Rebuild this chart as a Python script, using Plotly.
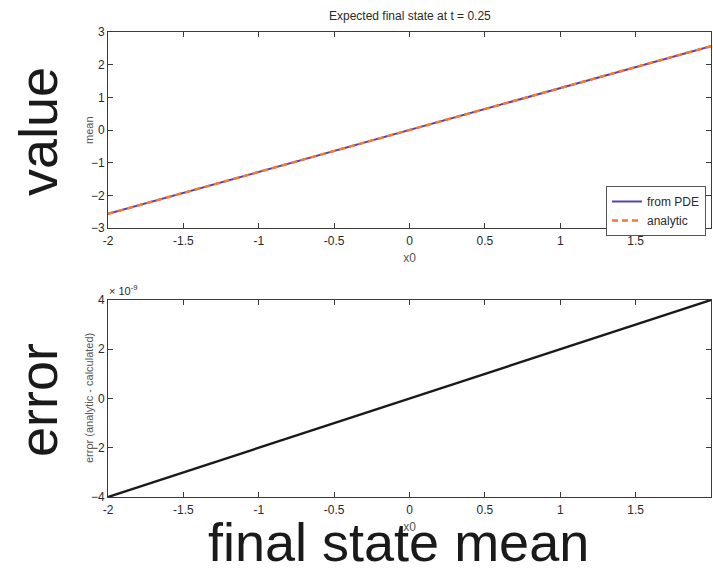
import plotly.graph_objects as go

# Initial positions and the expected final-state mean at t = 0.25
x0 = [-2.0, -1.5, -1.0, -0.5, 0.0, 0.5, 1.0, 1.5, 2.0]
mean_pde = [-2.568, -1.926, -1.284, -0.642, 0.0, 0.642, 1.284, 1.926, 2.568]
mean_analytic = [-2.568, -1.926, -1.284, -0.642, 0.0, 0.642, 1.284, 1.926, 2.568]
# Error (analytic - calculated), in units of 1e-9
error_e9 = [-4.0, -3.0, -2.0, -1.0, 0.0, 1.0, 2.0, 3.0, 4.0]

x_ticks = [-2, -1.5, -1, -0.5, 0, 0.5, 1, 1.5, 2]
mean_ticks = [-3, -2, -1, 0, 1, 2, 3]
err_ticks = [-4, -2, 0, 2, 4]

W, H = 713, 574
FONT = "Liberation Sans, Arial, sans-serif"
AX = "#3a3a3a"
TXT = "#2a2a2a"

fig = go.Figure()

fig.add_trace(go.Scatter(x=x0, y=mean_pde, mode="lines", name="from PDE",
                         line=dict(color="#5a3fb0", width=2),
                         xaxis="x", yaxis="y"))
fig.add_trace(go.Scatter(x=x0, y=mean_analytic, mode="lines", name="analytic",
                         line=dict(color="#f47a32", width=2.5, dash="6px,4px"),
                         xaxis="x", yaxis="y"))
fig.add_trace(go.Scatter(x=x0, y=error_e9, mode="lines", showlegend=False,
                         line=dict(color="#1a1a1a", width=2.4),
                         xaxis="x2", yaxis="y2"))


def px_x(p):
    return p / W


def px_y(p):
    return 1 - p / H


axis_common = dict(
    showline=True, linecolor=AX, linewidth=1, mirror="ticks",
    ticks="inside", ticklen=5, tickcolor=AX, tickwidth=1,
    showgrid=False, zeroline=False, automargin=False,
    tickfont=dict(family=FONT, size=12, color=TXT),
)

x_dom = [px_x(108), px_x(711)]
fig.update_layout(
    width=W, height=H,
    margin=dict(l=0, r=0, t=0, b=0, pad=0),
    paper_bgcolor="white", plot_bgcolor="white",
    font=dict(family=FONT, size=12, color=TXT),
    xaxis=dict(domain=x_dom, range=[-2, 2], tickvals=x_ticks,
               ticktext=[f"{v:g}" for v in x_ticks], anchor="y",
               ticklabelstandoff=2,
               title=dict(text="x0", standoff=6,
                          font=dict(family=FONT, size=12, color="#555555")),
               **axis_common),
    yaxis=dict(domain=[px_y(228), px_y(32)], range=[-3, 3], tickvals=mean_ticks,
               anchor="x", **axis_common),
    xaxis2=dict(domain=x_dom, range=[-2, 2], tickvals=x_ticks,
                ticktext=[f"{v:g}" for v in x_ticks], anchor="y2",
                ticklabelstandoff=2,
                title=dict(text="x0", standoff=6,
                           font=dict(family=FONT, size=12, color="#555555")),
                **axis_common),
    yaxis2=dict(domain=[px_y(497), px_y(300)], range=[-4, 4], tickvals=err_ticks,
                anchor="x2", **axis_common),
    legend=dict(x=px_x(706), y=px_y(186), xanchor="right", yanchor="top",
                bgcolor="white", bordercolor="#555555", borderwidth=1,
                font=dict(family=FONT, size=12, color=TXT),
                tracegroupgap=0, itemwidth=30),
    showlegend=True,
)


def label(text, x, y, size, color, angle=0, xanchor="center"):
    return dict(text=text, x=px_x(x), y=px_y(y), xref="paper", yref="paper",
                xanchor=xanchor, yanchor="middle", textangle=angle,
                showarrow=False, font=dict(family=FONT, size=size, color=color))


fig.update_layout(annotations=[
    label("Expected final state at t = 0.25", 410, 16, 12, TXT),
    label("× 10<sup>-9</sup>", 107, 290, 11, TXT, xanchor="left"),
    label("mean", 89, 130, 11, "#555555", angle=-90),
    label("error (analytic - calculated)", 89, 398, 11, "#555555", angle=-90),
    label("value", 38, 132, 54, "#1a1a1a", angle=-90),
    label("error", 38, 400, 54, "#1a1a1a", angle=-90),
    label("final state mean", 398, 542, 54, "#1a1a1a"),
])

fig.write_html("out.html")
